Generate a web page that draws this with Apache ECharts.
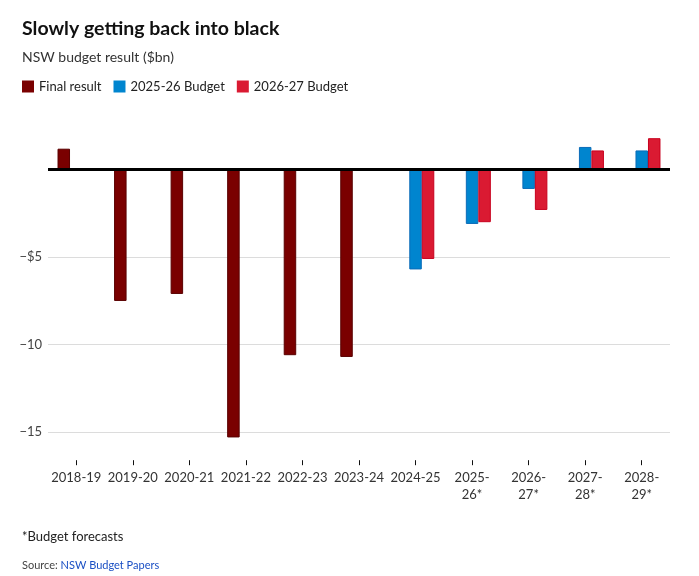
<!DOCTYPE html>
<html><head><meta charset="utf-8">
<script src="https://cdn.jsdelivr.net/npm/echarts@6/dist/echarts.min.js"></script>
<style>html,body{margin:0;padding:0;background:#fff}#c{width:699px;height:576px}</style>
</head><body><div id="c"></div>
<script>
var categories = ['2018-19','2019-20','2020-21','2021-22','2022-23','2023-24','2024-25','2025-\n26*','2026-\n27*','2027-\n28*','2028-\n29*'];
var finalResult = [1.2, -7.5, -7.1, -15.3, -10.6, -10.7, null, null, null, null, null];
var budget2526 = [null, null, null, null, null, null, -5.7, -3.1, -1.1, 1.3, 1.1];
var budget2627 = [null, null, null, null, null, null, -5.1, -3.0, -2.3, 1.1, 1.8];
var yLabels = {'-5': '−$5', '-10': '−10', '-15': '−15'};

var FONT = 'Lato, "Noto Sans", sans-serif';
var chart = echarts.init(document.getElementById('c'), null, {renderer: 'canvas'});
function barSeries(name, data, color, border) {
  return {
    name: name, type: 'bar', data: data, barWidth: 12.5, barGap: '0%',
    itemStyle: {color: color, borderColor: border, borderWidth: 1},
    emphasis: {disabled: true}
  };
}
var s0 = barSeries('Final result', finalResult, '#7a0000', '#5a0000');
s0.markLine = {
  silent: true, symbol: 'none', animation: false,
  label: {show: false},
  lineStyle: {color: '#000', width: 3, type: 'solid'},
  data: [{yAxis: 0}]
};
chart.setOption({
  animation: false,
  textStyle: {fontFamily: FONT},
  title: [
    {text: 'Slowly getting back into black', left: 17, top: 14,
     textStyle: {fontFamily: FONT, fontSize: 19.5, fontWeight: 'bold', color: '#111'}},
    {text: 'NSW budget result ($bn)', left: 17, top: 45,
     textStyle: {fontFamily: FONT, fontSize: 14, fontWeight: 'normal', color: '#333'}},
    {text: '*Budget forecasts', left: 17, top: 525,
     textStyle: {fontFamily: FONT, fontSize: 13, fontWeight: 'normal', color: '#222'}},
    {text: '{a|Source: }{b|NSW Budget Papers}', left: 17, top: 555,
     textStyle: {fontFamily: FONT, fontSize: 11, fontWeight: 'normal',
       rich: {a: {fontFamily: FONT, fontSize: 11, color: '#444'}, b: {fontFamily: FONT, fontSize: 11, color: '#1a4fc4'}}}}
  ],
  legend: {
    left: 17, top: 75, itemWidth: 12, itemHeight: 12, itemGap: 12,
    icon: 'rect', selectedMode: false,
    itemStyle: {borderWidth: 0},
    textStyle: {fontFamily: FONT, fontSize: 13, color: '#222', padding: [0, 0, 0, 0]},
    data: ['Final result', '2025-26 Budget', '2026-27 Budget']
  },
  grid: {left: 48, right: 29, top: 117.2, bottom: 126.3, containLabel: false},
  xAxis: {
    type: 'category', data: categories, offset: 10.5,
    axisLine: {show: false, onZero: false},
    axisTick: {show: true, alignWithLabel: true, length: 5, lineStyle: {color: '#111'}},
    axisLabel: {fontFamily: FONT, fontSize: 13, color: '#333', margin: 9.5, lineHeight: 17, interval: 0}
  },
  yAxis: {
    type: 'value', min: -16, max: 3, splitNumber: 4,
    axisLine: {show: false}, axisTick: {show: false},
    axisLabel: {fontFamily: FONT, fontSize: 13, color: '#444', margin: 6,
      formatter: function (v) { return yLabels[String(v)] || ''; }},
    splitLine: {show: true, showMinLine: false, showMaxLine: false, lineStyle: {color: '#dcdcdc', width: 1}}
  },
  series: [
    s0,
    barSeries('2025-26 Budget', budget2526, '#0085cf', '#0a6cb8'),
    barSeries('2026-27 Budget', budget2627, '#da1a32', '#c8001e')
  ]
});
</script></body></html>
